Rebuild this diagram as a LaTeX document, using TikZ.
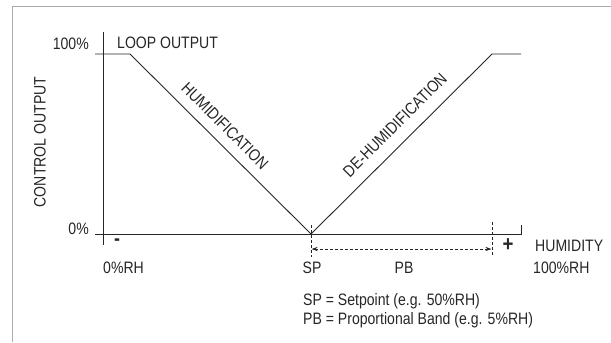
\documentclass[tikz,border=0pt]{standalone}
\usepackage{fontspec}
\setmainfont{Liberation Sans}[FakeStretch=0.85]
\usetikzlibrary{arrows.meta}
\definecolor{ink}{HTML}{262626}
\definecolor{framegray}{HTML}{ABABAB}
\tikzset{
  lbl/.style={text=ink, font=\fontsize{16.6}{18}\selectfont, inner sep=0pt},
  sign/.style={text=ink, inner sep=0pt},
  axisline/.style={draw=ink, line width=1bp},
  curve/.style={draw=ink, line width=0.9bp},
  guide/.style={draw=ink, line width=0.8bp, dash pattern=on 3bp off 2bp},
  bandarrow/.style={guide, {Stealth[length=6bp,width=4bp]}-{Stealth[length=6bp,width=4bp]}},
  framel/.style={draw=framegray, line width=1.4bp}
}
\begin{document}
\begin{tikzpicture}[x=1bp,y=-1bp]
\useasboundingbox (0,0) rectangle (611,342);
% frame
\coordinate (f1) at (611,6.5);
\coordinate (f2) at (12.5,6.5);
\coordinate (f3) at (12.5,342);
\draw[framel] (f1) -- (f2) -- (f3);
% axes
\coordinate (yt) at (103,32);
\coordinate (yb) at (103,245);
\coordinate (xl) at (95,234);
\coordinate (xr) at (521,234);
\coordinate (xt) at (521,225);
\draw[axisline] (yt) -- (yb);
\draw[axisline] (xl) -- (xr) -- (xt);
% curve
\coordinate (hl) at (95,54);
\coordinate (k1) at (130,54);
\coordinate (sp) at (311,234);
\coordinate (k2) at (492,54);
\coordinate (hr) at (521,54);
\draw[curve] (hl) -- (k1) -- (sp) -- (k2) -- (hr);
% guides
\coordinate (g1t) at (311,225);
\coordinate (g1b) at (311,257);
\coordinate (g2t) at (492,222);
\coordinate (g2b) at (492,257);
\draw[guide] (g1t) -- (g1b);
\draw[guide] (g2t) -- (g2b);
\coordinate (a1) at (311.5,249);
\coordinate (a2) at (491.5,249);
\draw[bandarrow] (a1) -- (a2);
% labels
\node[lbl, anchor=east] (l100) at (89,44) {100\%};
\node[lbl, anchor=east] (l0) at (89,229) {0\%};
\node[lbl, anchor=west] (loop) at (117,43) {LOOP OUTPUT};
\node[lbl, rotate=90] (co) at (40,142) {CONTROL OUTPUT};
\node[lbl, rotate=-45] (hum) at (225,126) {HUMIDIFICATION};
\node[lbl, rotate=45] (dehum) at (395,125) {DE-HUMIDIFICATION};
\node[sign, font=\fontsize{21}{21}\bfseries] (minus) at (117,242) {-};
\node[sign, font=\fontsize{22}{22}\bfseries] (plus) at (508,245) {+};
\node[lbl, anchor=west] (humid) at (535,246) {HUMIDITY};
\node[lbl, anchor=west] (r100) at (533,268) {100\%RH};
\node[lbl, anchor=west] (r0) at (103,268) {0\%RH};
\node[lbl] (splbl) at (312,268) {SP};
\node[lbl] (pblbl) at (404,268) {PB};
\node[lbl, anchor=west] (spdef) at (303,301) {SP = Setpoint (e.g. 50\%RH)};
\node[lbl, anchor=west] (pbdef) at (303,320) {PB = Proportional Band (e.g. 5\%RH)};
\end{tikzpicture}
\end{document}
